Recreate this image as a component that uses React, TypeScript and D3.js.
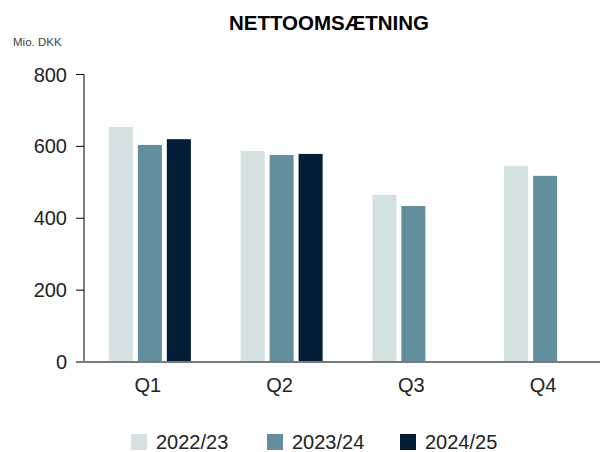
import * as d3 from "d3";
import { useEffect, useRef } from "react";

const quarters = ["Q1", "Q2", "Q3", "Q4"];
const seriesNames = ["2022/23", "2023/24", "2024/25"];
const colors = ["#d3e1e1", "#628f9e", "#031c38"];
const values2223 = [654, 587, 465, 545];
const values2324 = [604, 576, 434, 518];
const values2425 = [620, 579, null, null];
const yTicks = [0, 200, 400, 600, 800];

const W = 600;
const H = 452;
const FONT = "'Liberation Sans', Arial, sans-serif";

const drawChart = (target: any) => {
  const svg = d3
    .create("svg")
    .attr("width", W)
    .attr("height", H)
    .style("display", "block")
    .style("font-family", FONT);

  const allSeries = [values2223, values2324, values2425];

  const x = d3.scaleBand().domain(quarters).range([84, 611]).padding(0);
  const xInner = d3
    .scaleBand()
    .domain(seriesNames)
    .range([-41, 41])
    .paddingInner(0.17)
    .paddingOuter(0);
  const y = d3.scaleLinear().domain([0, 800]).range([362, 74.5]);

  // title + unit
  svg
    .append("text")
    .attr("x", 329)
    .attr("y", 30)
    .attr("text-anchor", "middle")
    .attr("font-size", 20.5)
    .attr("font-weight", "bold")
    .attr("fill", "#000")
    .text("NETTOOMSÆTNING");
  svg
    .append("text")
    .attr("x", 13)
    .attr("y", 46)
    .attr("font-size", 11.5)
    .attr("fill", "#444")
    .text("Mio. DKK");

  // bars
  allSeries.forEach((vals, si) => {
    svg
      .append("g")
      .selectAll("rect")
      .data(quarters.map((q, i) => ({ q, v: vals[i] })).filter((d) => d.v != null))
      .join("rect")
      .attr("x", (d) => x(d.q)! + x.bandwidth() / 2 + xInner(seriesNames[si])!)
      .attr("width", xInner.bandwidth())
      .attr("y", (d) => y(d.v as number))
      .attr("height", (d) => y(0) - y(d.v as number))
      .attr("fill", colors[si]);
  });

  // y axis
  const yAxis = svg.append("g");
  yAxis
    .append("line")
    .attr("x1", 84)
    .attr("x2", 84)
    .attr("y1", y(800))
    .attr("y2", y(0))
    .attr("stroke", "#000")
    .attr("stroke-width", 1);
  yTicks.forEach((t) => {
    if (t > 0) {
      yAxis
        .append("line")
        .attr("x1", 76)
        .attr("x2", 84)
        .attr("y1", y(t))
        .attr("y2", y(t))
        .attr("stroke", "#000")
        .attr("stroke-width", 1);
    }
    yAxis
      .append("text")
      .attr("x", 67)
      .attr("y", y(t))
      .attr("dy", "0.35em")
      .attr("text-anchor", "end")
      .attr("font-size", 20)
      .attr("fill", "#222")
      .text(t);
  });

  // zero line
  svg
    .append("line")
    .attr("x1", 76)
    .attr("x2", W)
    .attr("y1", y(0))
    .attr("y2", y(0))
    .attr("stroke", "#7a7a7a")
    .attr("stroke-width", 2);

  // x labels
  svg
    .append("g")
    .selectAll("text")
    .data(quarters)
    .join("text")
    .attr("x", (d) => x(d)! + x.bandwidth() / 2 - 2)
    .attr("y", 392)
    .attr("text-anchor", "middle")
    .attr("font-size", 20)
    .attr("fill", "#222")
    .text((d) => d);

  // legend
  const legendX = [131, 267, 400];
  const legend = svg
    .append("g")
    .selectAll("g")
    .data(seriesNames)
    .join("g")
    .attr("transform", (d, i) => `translate(${legendX[i]},434)`);
  legend
    .append("rect")
    .attr("width", 16)
    .attr("height", 16)
    .attr("fill", (d, i) => colors[i]);
  legend
    .append("text")
    .attr("x", 25)
    .attr("y", 15)
    .attr("font-size", 20)
    .attr("fill", "#222")
    .text((d) => d);

  const targetAccess = d3.select(target);
  targetAccess.selectAll("svg").remove();
  targetAccess.append(() => svg.node());
};

const App = () => {
  const targetRef = useRef<HTMLDivElement>(null);
  useEffect(() => {
    if (targetRef.current) drawChart(targetRef.current);
  }, []);
  return (
    <div
      ref={targetRef}
      style={{ position: "fixed", top: 0, left: 0, width: W, height: H, background: "#fff" }}
    />
  );
};

export default App;
